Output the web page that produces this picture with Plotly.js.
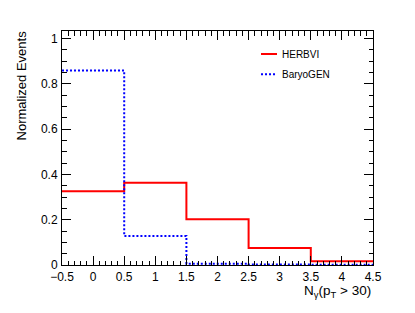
<!DOCTYPE html>
<html>
<head>
<meta charset="utf-8">
<script src="https://cdn.plot.ly/plotly-3.0.1.min.js"></script>
<style>html,body{margin:0;padding:0;background:#fff;}#chart{width:415px;height:313px;}</style>
</head>
<body>
<div id="chart"></div>
<script>
const binEdges = [-0.5, 0.5, 1.5, 2.5, 3.5, 4.5];
const seriesNames = ["HERBVI", "BaryoGEN"];
const herbvi = [0.326, 0.363, 0.202, 0.075, 0.017];
const baryogen = [0.859, 0.128, 0.006, 0.002, 0.001];
const yTitle = "Normalized Events";
const xTitle = "N<sub>γ</sub>(p<sub>T</sub> > 30)";

const FONT = '"Liberation Sans", Arial, Helvetica, sans-serif';
function stepY(v) { return v.concat([v[v.length - 1]]); }

const traces = [
  {x: binEdges, y: stepY(herbvi), type: 'scatter', mode: 'lines', name: seriesNames[0],
   line: {shape: 'hv', color: '#ff0000', width: 2}, showlegend: false, hoverinfo: 'skip'},
  {x: binEdges, y: stepY(baryogen), type: 'scatter', mode: 'lines', name: seriesNames[1],
   line: {shape: 'hv', color: '#0000ff', width: 2, dash: '2px,2px'}, showlegend: false, hoverinfo: 'skip'}
];

const axisCommon = {
  showgrid: false, zeroline: false, showline: true, linecolor: '#000', linewidth: 1,
  ticks: 'inside', ticklen: 9, tickwidth: 1, tickcolor: '#000', mirror: 'allticks',
  tickfont: {family: FONT, size: 12, color: '#000'}
};

const layout = {
  width: 415, height: 313,
  margin: {l: 62, r: 42, t: 31, b: 48, pad: 0},
  paper_bgcolor: '#fff', plot_bgcolor: '#fff',
  showlegend: false,
  xaxis: Object.assign({}, axisCommon, {
    range: [-0.5, 4.5], dtick: 0.5, tick0: -0.5, ticklabelstandoff: 1,
    minor: {dtick: 0.1, ticklen: 4.5, tickcolor: '#000', ticks: 'inside'}
  }),
  yaxis: Object.assign({}, axisCommon, {
    range: [0, 1.033], dtick: 0.2, tick0: 0, ticklabelstandoff: 1,
    minor: {dtick: 0.05, ticklen: 4.5, tickcolor: '#000', ticks: 'inside'}
  }),
  shapes: [
    {type: 'line', xref: 'paper', yref: 'paper', x0: 0.6399, x1: 0.6913, y0: 0.9017, y1: 0.9017,
     line: {color: '#ff0000', width: 2}},
    {type: 'line', xref: 'paper', yref: 'paper', x0: 0.6399, x1: 0.6913, y0: 0.815, y1: 0.815,
     line: {color: '#0000ff', width: 2, dash: '2px,2px'}}
  ],
  annotations: [
    {text: yTitle, xref: 'paper', yref: 'paper', x: -0.1318, y: 0.7675, xanchor: 'center', yanchor: 'middle',
     textangle: -90, showarrow: false, font: {family: FONT, size: 13, color: '#000'}},
    {text: xTitle, xref: 'paper', yref: 'paper', x: 1, y: -0.112, xanchor: 'right', yanchor: 'middle',
     showarrow: false, font: {family: FONT, size: 13.5, color: '#000'}},
    {text: seriesNames[0], xref: 'paper', yref: 'paper', x: 0.701, y: 0.9017, xanchor: 'left', yanchor: 'middle',
     showarrow: false, font: {family: FONT, size: 10, color: '#000'}},
    {text: seriesNames[1], xref: 'paper', yref: 'paper', x: 0.701, y: 0.815, xanchor: 'left', yanchor: 'middle',
     showarrow: false, font: {family: FONT, size: 10, color: '#000'}}
  ]
};

Plotly.newPlot('chart', traces, layout, {staticPlot: true, displayModeBar: false});
</script>
</body>
</html>
